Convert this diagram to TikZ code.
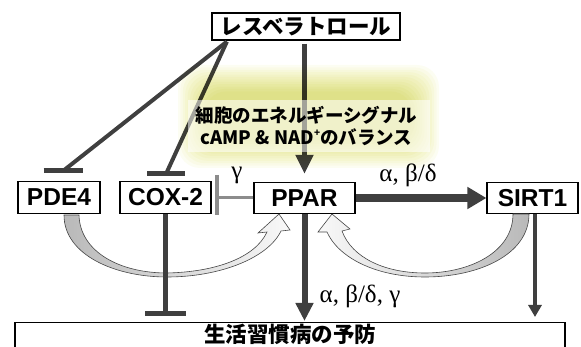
\documentclass[tikz,border=0pt]{standalone}
\usepackage{fontspec}
\newfontfamily\jp{Noto Sans CJK JP}
\newfontfamily\lat{Liberation Sans}
\newfontfamily\gr{Liberation Serif}
\usetikzlibrary{arrows.meta}
\definecolor{dk}{HTML}{3F3F3F}
\definecolor{gm}{HTML}{8C8C8C}
\definecolor{glowy}{RGB}{226,228,110}
\begin{document}
\begin{tikzpicture}[x=1pt,y=-1pt,
  box/.style={draw=black, line width=1.2pt, fill=white, inner sep=0pt,
    font=\lat\bfseries\fontsize{24.5}{28}\selectfont},
  jbox/.style={box, font=\jp\bfseries\fontsize{21.5}{26}\selectfont},
  inh/.style={draw=dk, line width=4pt},
  tbar/.style={draw=dk, line width=5pt},
  glab/.style={font=\gr\fontsize{25}{28}\selectfont},
  curarr/.style={draw=gray!55!black, line width=0.6pt}]
\useasboundingbox (0,0) rectangle (581,347);

% nodes
\node[jbox, minimum width=188pt, minimum height=27pt] (res) at (306,26.5) {レスベラトロール};
\node[box, minimum width=82pt, minimum height=32pt] (pde) at (59,197.5) {PDE4};
\node[box, minimum width=91pt, minimum height=32pt] (cox) at (165.5,197.5) {COX-2};
\node[box, minimum width=101pt, minimum height=31pt] (ppar) at (304.5,198) {PPAR};
\node[box, minimum width=91pt, minimum height=31pt] (sirt) at (532.5,198) {SIRT1};
\node[draw=black, line width=1.2pt, minimum width=550pt, minimum height=40pt,
  anchor=north, inner sep=0pt] (prev) at (290,322) {};
\node[font=\jp\bfseries\fontsize{21.5}{26}\selectfont] (prevtxt) at (290,334.5) {生活習慣病の予防};

% curved feedback arrows
\path[curarr, left color=gray!55, right color=gray!5]
  (64,215) .. controls (64,255) and (115,277) .. (167,277)
  .. controls (220,277) and (268,258) .. (281,231)
  -- (290,230) -- (279,214) -- (258,233) -- (267,232)
  .. controls (255,258) and (215,272) .. (167,273)
  .. controls (120,273) and (80,252) .. (79,215) -- cycle;
\path[curarr, left color=gray!5, right color=gray!55]
  (529,214) .. controls (529,255) and (478,277) .. (425,277)
  .. controls (375,277) and (338,257) .. (327,232)
  -- (318,232) -- (332,214) -- (350,229) -- (342,231)
  .. controls (352,258) and (385,273) .. (425,273)
  .. controls (470,273) and (513,252) .. (513,214) -- cycle;

% resveratrol inhibitions
\coordinate (rs) at ([xshift=15.5pt,yshift=-1pt]res.south west);
\coordinate (tA) at (63,171);
\coordinate (tB) at (166,174);
\draw[inh] (rs) -- (tA);
\draw[inh] (rs) -- (tB);
\draw[tbar] (tA) ++(-19.5,0) -- ++(39,0);
\draw[tbar] (tB) ++(-19,0) -- ++(38,0);

% resveratrol -> PPAR
\draw[dk, line width=5pt, -{Triangle[width=17pt,length=19pt]}, shorten <=3pt, shorten >=8pt]
  (res.south -| ppar.north) -- (ppar.north);

% COX-2 down inhibition
\coordinate (tC) at ([yshift=-99pt]cox.south);
\draw[dk, line width=5.5pt] (cox.south) -- (tC);
\draw[tbar] (tC) ++(-20.5,0) -- ++(41,0);

% PPAR -| COX-2 (gamma)
\coordinate (tG) at ([xshift=-36pt]ppar.west);
\draw[gm, line width=3pt] (ppar.west) -- (tG);
\draw[gm, line width=4pt] (tG) ++(0,-23) -- ++(0,40);
\node[glab] (lg) at (237,175) {γ};

% PPAR -> SIRT1
\draw[dk, line width=8pt, -{Triangle[width=21pt,length=19pt]}] (ppar.east) -- (sirt.west);
\node[glab] (l1) at (408,175) {α, β/δ};

% PPAR -> prevention
\draw[dk, line width=6pt, -{Triangle[width=17pt,length=18pt]}, shorten >=1pt]
  (ppar.south) -- (ppar.south |- prev.north);
\node[glab] (l2) at (360,296) {α, β/δ, γ};

% SIRT1 -> prevention
\draw[dk, line width=4.5pt, -{Triangle[width=13pt,length=12pt]}, shorten >=5pt]
  ([xshift=2.5pt]sirt.south) -- ([xshift=2.5pt]sirt.south |- prev.north);

% glow
\begin{scope}[blend mode=multiply]
\foreach \i in {0,...,11} {
  \fill[glowy, opacity=0.085, rounded corners=22pt]
    (178+2.4*\i, 65+2.4*\i) rectangle (439-2.4*\i, 168-2.4*\i);
}
\end{scope}
\fill[white, opacity=0.55] (188,100) rectangle (430,152);
\node[font=\jp\bfseries\fontsize{18.5}{22}\selectfont, align=center] (sig) at (306.5,126)
  {細胞のエネルギーシグナル\\cAMP \& NAD\raisebox{0.45em}{\fontsize{10}{10}\selectfont +}のバランス};
\end{tikzpicture}
\end{document}
